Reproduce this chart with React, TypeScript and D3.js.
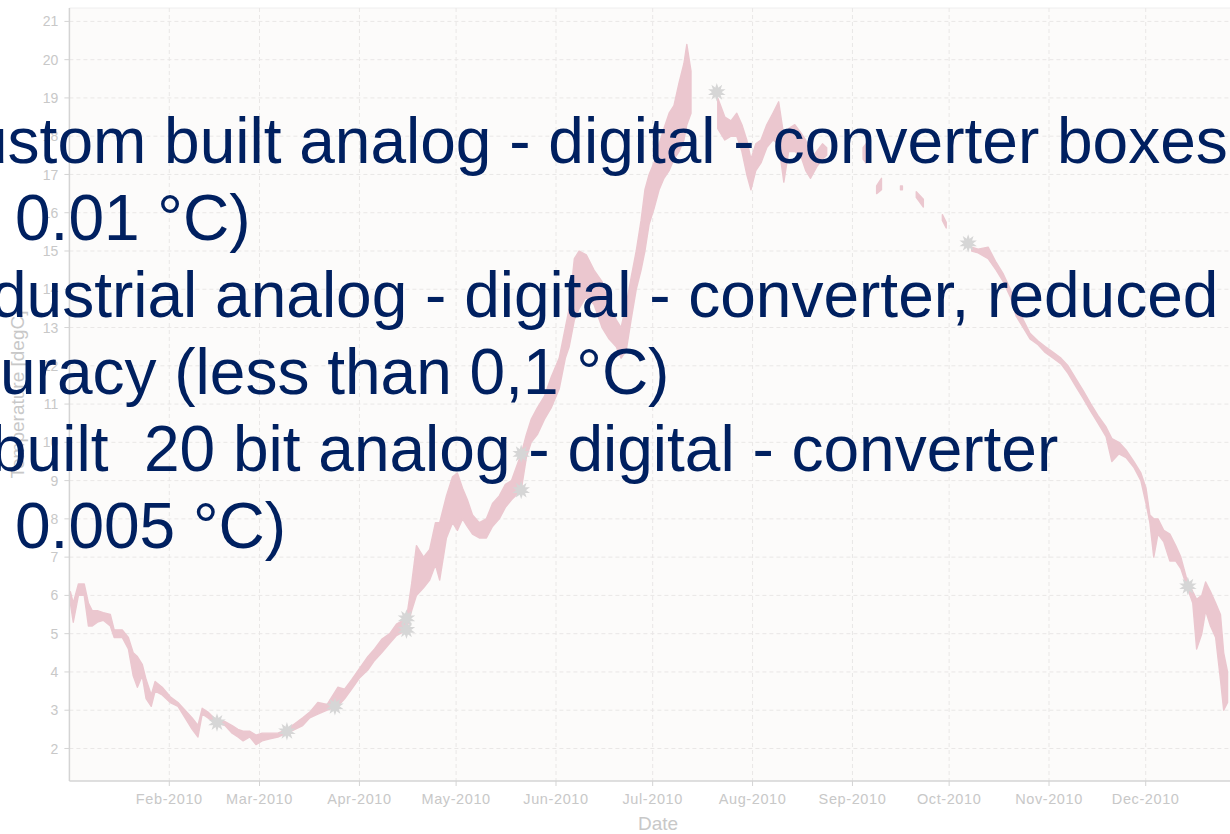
import React from "react";
import * as d3 from "d3";

// measured temperature band, one row per reading: [day of year, low, high]
// null rows are gaps in the record
const bandDays = [
  0.3, 1.2, 2.8, 4.6, 5.9, 7.1, 8.7, 10.5, 12.7, 13.9, 16.4, 18.3, 19.8, 21.1, 22.6, 23.8, 25.4, 26.6, 28.8, 31.3,
  33.7, 35.9, 38.1, 39.9, 41.2, 43.0, 44.8, 48.3, 50.5, 52.3, 53.9, 56.0, 57.9, 59.8, 62.2, 64.7, 67.5, 70.0, 72.4, 74.6,
  77.1, 80.0, 83.3, 85.4, 87.6, 90.1, 92.6, 94.7, 96.9, 99.4, 101.5, 104.6, 106.2, 107.7, 109.9, 111.8, 113.6, 114.9, 117.0, 118.9,
  120.4, 122.0, 123.5, 125.1, 127.2, 129.4, 131.3, 133.4, 135.3, 137.2, 140.2, 141.8, 143.3, 145.2, 147.4, 149.5, 152.0, 153.9, 155.1, 156.7,
  158.2, 160.4, 162.8, 165.3, 167.5, 169.7, 171.2, 172.8, 174.3, 175.9, 177.4, 178.6, 179.9, 181.4, 183.0, 184.5, 186.1, 187.6, 189.2, 190.7,
  191.6, 192.9, 196.0,
  201.2, 203.4, 205.3, 207.1, 208.7, 210.2, 211.5, 213.0, 214.6, 216.4, 218.3, 220.1, 221.7, 223.2, 225.1, 226.9, 228.5, 230.0, 231.9, 233.7,
  235.0, 240.0,
  246.3, 247.2, 249.0,
  250.5, 252.0, 255.0,
  257.9, 258.5, 260.0,
  262.8, 265.0, 268.0,
  270.9, 272.1, 275.0,
  280.0, 282.0, 285.1, 287.6, 289.8, 292.0, 293.8, 296.0, 298.1, 300.6, 302.8, 305.3, 307.7, 309.9, 312.4, 314.6, 317.0, 319.2, 321.7, 323.5,
  325.7, 327.9, 330.3, 332.5, 334.1, 335.3, 336.5, 337.8, 339.6, 341.5, 343.3, 344.9, 346.5, 348.6, 349.8, 351.4, 352.6, 354.1, 355.7, 357.2,
  358.2, 359.4,
];
const bandLo = [
  5.8, 5.3, 6.0, 6.0, 5.2, 5.2, 5.3, 5.35, 5.2, 4.9, 4.9, 4.6, 3.9, 3.6, 3.9, 3.3, 3.1, 3.5, 3.4, 3.2,
  3.1, 2.8, 2.5, 2.3, 2.9, 2.8, 2.7, 2.6, 2.4, 2.3, 2.2, 2.3, 2.1, 2.2, 2.25, 2.3, 2.4, 2.5, 2.6, 2.8,
  2.9, 3.0, 3.1, 3.3, 3.55, 3.85, 4.05, 4.3, 4.5, 4.75, 4.95, 5.1, 5.6, 6.0, 6.2, 6.4, 6.8, 6.4, 7.5, 7.9,
  7.7, 8.0, 7.8, 7.6, 7.5, 7.5, 7.8, 8.0, 8.3, 8.5, 8.75, 9.6, 10.0, 10.2, 10.6, 10.9, 11.4, 12.2, 12.5, 13.2,
  13.5, 13.8, 13.6, 13.0, 12.7, 12.5, 12.2, 12.4, 13.2, 14.0, 14.5, 15.0, 15.7, 16.1, 16.6, 16.9, 17.1, 17.4, 17.6, 17.9,
  18.3, 18.6, null,
  18.2, 17.9, 18.0, 18.0, 17.6, 17.0, 16.6, 17.1, 17.3, 17.7, 17.9, 17.8, 16.8, 17.6, 17.6, 17.5, 17.1, 16.9, 17.2, 17.4,
  17.5, null,
  17.4, 17.3, null,
  16.5, 16.6, null,
  16.6, 16.6, null,
  16.4, 16.15, null,
  15.8, 15.6, null,
  15.0, 14.95, 14.8, 14.5, 14.2, 13.8, 13.3, 13.0, 12.7, 12.55, 12.35, 12.2, 12.05, 11.8, 11.45, 11.15, 10.8, 10.5, 10.15, 9.5,
  9.7, 9.6, 9.35, 9.0, 8.4, 7.9, 7.0, 7.6, 7.4, 6.9, 6.9, 6.7, 6.3, 5.8, 4.6, 5.0, 5.6, 5.2, 4.9, 3.8,
  3.0, 3.2,
];
const bandHi = [
  6.1, 5.8, 6.3, 6.3, 5.8, 5.6, 5.6, 5.55, 5.5, 5.1, 5.1, 4.9, 4.5, 4.4, 4.2, 3.8, 3.4, 3.75, 3.6, 3.35,
  3.2, 3.0, 2.8, 2.6, 3.05, 2.95, 2.8, 2.7, 2.6, 2.5, 2.45, 2.45, 2.35, 2.4, 2.4, 2.4, 2.5, 2.65, 2.8, 2.95,
  3.2, 3.15, 3.6, 3.55, 3.8, 4.1, 4.4, 4.6, 4.85, 5.0, 5.25, 5.4, 6.3, 7.3, 7.0, 7.2, 7.9, 7.9, 8.6, 9.1,
  9.2, 8.8, 8.5, 8.1, 7.9, 8.0, 8.4, 8.6, 8.9, 9.0, 9.7, 10.2, 10.6, 10.9, 11.2, 11.7, 12.2, 13.0, 13.5, 14.8,
  15.0, 14.9, 14.5, 14.2, 13.6, 13.2, 13.0, 13.6, 14.3, 15.0, 15.8, 16.6, 17.0, 17.3, 17.8, 18.2, 18.6, 18.8, 19.4, 19.9,
  20.4, 19.7, null,
  19.0, 18.5, 18.4, 18.6, 18.3, 17.9, 17.4, 17.8, 17.9, 18.3, 18.6, 18.9, 18.0, 18.2, 18.3, 18.1, 17.9, 17.4, 17.6, 17.8,
  17.7, null,
  17.7, 17.8, null,
  16.7, 16.9, null,
  16.7, 16.7, null,
  16.55, 16.35, null,
  15.95, 15.75, null,
  15.1, 15.05, 15.1, 14.7, 14.4, 14.0, 13.6, 13.2, 12.85, 12.65, 12.5, 12.35, 12.2, 12.0, 11.65, 11.35, 11.0, 10.7, 10.4, 10.1,
  10.0, 9.8, 9.5, 9.2, 8.8, 8.1, 8.0, 8.0, 7.7, 7.6, 7.3, 7.0, 6.5, 6.1, 5.9, 6.0, 6.35, 6.1, 5.8, 5.5,
  4.5, 4.0,
];

// grey markers where the logger was swapped
const starDays = [45.8, 67.5, 82.4, 104.6, 104.6, 140.2, 140.2, 200.9, 278.9, 347.1];
const starValues = [2.68, 2.45, 3.1, 5.4, 5.1, 9.7, 8.75, 19.15, 15.2, 6.24];

// slide text laid over the chart
const overlayLines = [
  "ustom built analog - digital - converter boxes",
  "0.01 °C)",
  "dustrial analog - digital - converter, reduced",
  "uracy (less than 0,1 °C)",
  "built  20 bit analog - digital - converter",
  "0.005 °C)",
];
const overlayX = [-28, 15, -9, 0, -9, 15];

const W = 1230;
const H = 834;
const plotLeft = 69.4;
const plotRight = 1245.6;
const plotTop = 8;
const plotBottom = 781;

const start = new Date(2010, 0, 1);
const end = new Date(2011, 0, 1);
const dayToDate = (d: number) => new Date(start.getTime() + d * 86400000);

const axisColor = "#d4d4d4";
const labelColor = "#c8c8c8";
const gridColor = "#e9e7e6";
const pink = "#ebc7cf";
const navy = "#002060";
const font = "'Liberation Sans', Arial, sans-serif";

export default function App() {
  const x = d3.scaleTime().domain([start, end]).range([plotLeft, plotRight]);
  const y = d3.scaleLinear().domain([1.15, 21.35]).range([plotBottom, plotTop]);

  const rows = bandDays.map((d, i) => ({ date: dayToDate(d), lo: bandLo[i], hi: bandHi[i] }));

  const area = d3
    .area<{ date: Date; lo: number | null; hi: number | null }>()
    .defined((d) => d.lo != null)
    .x((d) => x(d.date))
    .y0((d) => y(d.lo as number))
    .y1((d) => y(d.hi as number));

  const yTicks = y.ticks(20);
  const monthTicks = d3.timeMonth.range(new Date(2010, 1, 1), end);
  const fmt = d3.timeFormat("%b-%Y");
  // a 10-point burst: two stars, one turned by 36 degrees
  const star = d3.symbol().type(d3.symbolStar).size(95)() as string;

  return (
    <svg
      width={W}
      height={H}
      style={{ position: "absolute", left: 0, top: 0, background: "#ffffff" }}
      fontFamily={font}
    >
      <defs>
        <clipPath id="plot-clip">
          <rect x={plotLeft} y={plotTop} width={plotRight - plotLeft} height={plotBottom - plotTop} />
        </clipPath>
      </defs>

      {/* panel */}
      <rect x={plotLeft} y={plotTop} width={plotRight - plotLeft} height={plotBottom - plotTop} fill="#fcfbfa" />
      <line x1={plotLeft} x2={plotRight} y1={plotTop} y2={plotTop} stroke="#eeeeee" />

      {/* grid */}
      {yTicks.map((t) => (
        <line key={"gy" + t} x1={plotLeft} x2={plotRight} y1={y(t)} y2={y(t)} stroke={gridColor} strokeDasharray="4,3" />
      ))}
      {monthTicks.map((m) => (
        <line key={"gx" + m.getTime()} x1={x(m)} x2={x(m)} y1={plotTop} y2={plotBottom} stroke={gridColor} strokeDasharray="4,3" />
      ))}

      {/* data */}
      <g clipPath="url(#plot-clip)">
        <path d={area(rows) ?? ""} fill={pink} stroke={pink} strokeWidth={1.4} strokeLinejoin="round" />
        {starDays.map((d, i) => (
          <g key={"s" + i} transform={`translate(${x(dayToDate(d))},${y(starValues[i])})`} fill="#d6d6d6">
            <path d={star} />
            <path d={star} transform="rotate(36)" />
          </g>
        ))}
      </g>

      {/* axes */}
      <line x1={plotLeft} x2={plotLeft} y1={plotTop} y2={plotBottom} stroke={axisColor} strokeWidth={1.5} />
      <line x1={plotLeft} x2={plotRight} y1={plotBottom} y2={plotBottom} stroke={axisColor} strokeWidth={1.5} />
      {yTicks.map((t) => (
        <g key={"ty" + t}>
          <line x1={plotLeft - 5} x2={plotLeft} y1={y(t)} y2={y(t)} stroke={axisColor} />
          <text x={plotLeft - 11} y={y(t)} dy="0.36em" textAnchor="end" fontSize={14} fill={labelColor}>
            {t}
          </text>
        </g>
      ))}
      {monthTicks.map((m) => (
        <g key={"tx" + m.getTime()}>
          <line x1={x(m)} x2={x(m)} y1={plotBottom} y2={plotBottom + 5} stroke={axisColor} />
          <text x={x(m)} y={plotBottom + 23} textAnchor="middle" fontSize={14.5} letterSpacing="0.6" fill={labelColor}>
            {fmt(m)}
          </text>
        </g>
      ))}
      <text x={658} y={830} textAnchor="middle" fontSize={19} fill={labelColor}>
        Date
      </text>
      <text
        transform={`translate(24,${(plotTop + plotBottom) / 2}) rotate(-90)`}
        textAnchor="middle"
        fontSize={19}
        fill={labelColor}
      >
        Temperature [degC]
      </text>

      {/* slide text on top */}
      {overlayLines.map((t, i) => (
        <text key={"o" + i} x={overlayX[i]} y={163 + i * 77} fontSize={64} fill={navy} style={{ whiteSpace: "pre" }}>
          {t}
        </text>
      ))}
    </svg>
  );
}
